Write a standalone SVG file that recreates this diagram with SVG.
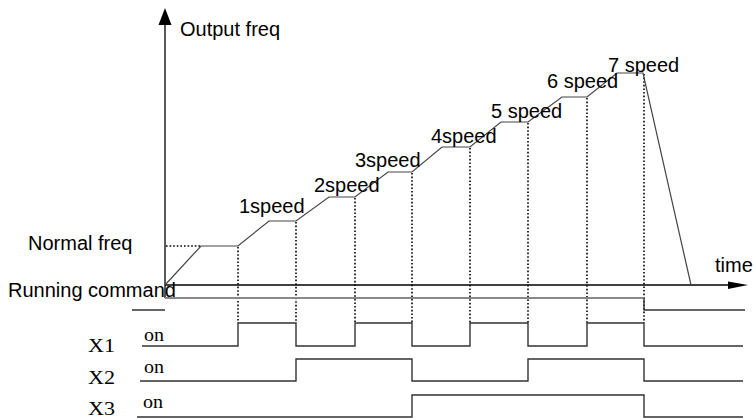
<svg xmlns="http://www.w3.org/2000/svg" width="756" height="418" viewBox="0 0 756 418">
<style>
.s{font-family:"Liberation Sans",Arial,sans-serif;font-size:20px;fill:#000}
.r{font-family:"Liberation Serif","Times New Roman",serif;font-size:18px;fill:#000}
.ax{stroke:#000;stroke-width:1.3;fill:none}
.dot{stroke:#000;stroke-width:1.6;stroke-dasharray:1.6,2;fill:none}
.sig{stroke:#333;stroke-width:1.4;fill:none}
.curve{stroke:#444;stroke-width:1.2;fill:none}
.hi{stroke:#888;stroke-width:2;fill:none}
</style>
<rect width="756" height="418" fill="#fff"/>
<g id="connectors">
<line class="ax" x1="165" y1="298" x2="165" y2="22"/>
<polygon points="165,8 158.5,25 171.5,25" fill="#000"/>
<line class="ax" x1="165" y1="285" x2="730" y2="285"/>
<polygon points="748,285 728,281.5 728,289" fill="#000"/>
<line class="dot" x1="166" y1="246" x2="201" y2="246"/>
<line class="dot" x1="238" y1="247" x2="238" y2="323"/>
<line class="dot" x1="296" y1="222" x2="296" y2="323"/>
<line class="dot" x1="355" y1="198" x2="355" y2="323"/>
<line class="dot" x1="412" y1="173" x2="412" y2="323"/>
<line class="dot" x1="470" y1="148" x2="470" y2="323"/>
<line class="dot" x1="528" y1="123" x2="528" y2="323"/>
<line class="dot" x1="587" y1="98" x2="587" y2="323"/>
<line class="dot" x1="644" y1="74" x2="644" y2="323"/>
<path class="curve" d="M165,285 L201,246 H238 L269,221 H296 L329,197 H355 L388,172 H412 L442,147 H470 L501,122 H528 L562,97 H587 L617,73 H643 L691,285"/>
<path class="sig" d="M132,310 H165"/>
<path class="hi" d="M165,298 H644"/>
<path class="sig" d="M644,298 V310 H745"/>
<path class="sig" d="M142,346 H238 V323 H296 V346 H355 V323 H412 V346 H470 V323 H528 V346 H587 V323 H644 V346 H743"/>
<path class="sig" d="M140,381 H296 V359 H412 V381 H528 V359 H644 V381 H743"/>
<path class="sig" d="M137,417 H412 V395 H644 V417 H743"/>
</g>
<g id="labels">
<text class="s" x="180" y="36">Output freq</text>
<text class="s" x="28" y="250">Normal freq</text>
<text class="s" x="8" y="297">Running command</text>
<text class="s" x="715" y="272">time</text>
<text class="s" x="239" y="213">1speed</text>
<text class="s" x="314" y="192">2speed</text>
<text class="s" x="355" y="167">3speed</text>
<text class="s" x="431" y="143">4speed</text>
<text class="s" x="491" y="118">5 speed</text>
<text class="s" x="547" y="88">6 speed</text>
<text class="s" x="608" y="72">7 speed</text>
</g>
<g id="signals">
<text class="r" x="88" y="352" textLength="27" lengthAdjust="spacingAndGlyphs">X1</text>
<text class="r" x="88" y="384" textLength="27" lengthAdjust="spacingAndGlyphs">X2</text>
<text class="r" x="88" y="415" textLength="27" lengthAdjust="spacingAndGlyphs">X3</text>
<text class="r" x="144" y="341" textLength="20" lengthAdjust="spacingAndGlyphs">on</text>
<text class="r" x="144" y="373" textLength="20" lengthAdjust="spacingAndGlyphs">on</text>
<text class="r" x="143" y="408" textLength="20" lengthAdjust="spacingAndGlyphs">on</text>
</g>
</svg>
